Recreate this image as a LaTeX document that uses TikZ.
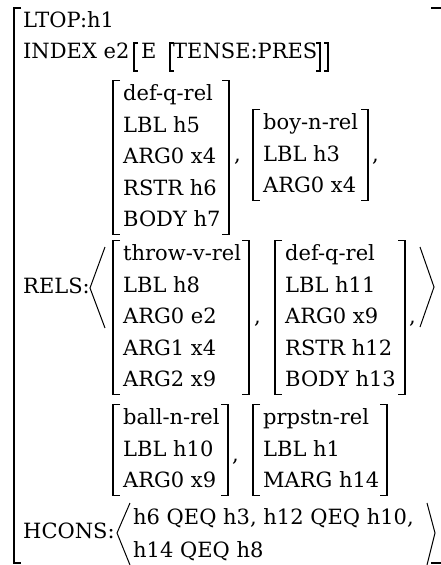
\documentclass[tikz,border=0pt]{standalone}
\usepackage{fontspec}
\setmainfont{DejaVu Serif}
\newcommand\avmfont{\fontsize{21}{31.5}\selectfont}
\tikzset{
  avmtext/.style={font=\avmfont, inner sep=0pt, anchor=base west},
  brk/.style={line width=1.1pt, line join=miter},
  angl/.style={line width=1pt, line join=miter},
}
% #1 name, #2 left x, #3 right x, #4 top y, #5 bottom y, #6 first baseline, #7 row step, #8 rows
\newcommand\avmmatrix[8]{%
  \draw[brk] (#2+7,#4) -- (#2,#4) -- (#2,#5) -- (#2+7,#5);
  \draw[brk] (#3-7,#4) -- (#3,#4) -- (#3,#5) -- (#3-7,#5);
  \foreach \t [count=\i] in {#8}
    \node[avmtext] (#1-\i) at (#2+10, #6+\i*#7-#7) {\t};
}
\begin{document}
\begin{tikzpicture}[x=1pt,y=-1pt]
\useasboundingbox (0,0) rectangle (441,565);
\clip (0,0) rectangle (441,565);
% outer brackets
\draw[brk] (21,8) -- (14,8) -- (14,563) -- (21,563);
\draw[brk] (431,8) -- (446,8) -- (446,563) -- (431,563);
% top rows
\node[avmtext] (ltop) at (23,27) {LTOP:h1};
\node[avmtext] (index) at (23,58) {INDEX e2};
\draw[brk] (138,43) -- (134,43) -- (134,71) -- (138,71);
\node[avmtext] (ev) at (141,58) {E};
\draw[brk] (174,43) -- (170,43) -- (170,71) -- (174,71);
\node[avmtext] (tense) at (173,58) {TENSE:PRES};
\draw[brk] (316,43) -- (320,43) -- (320,71) -- (316,71);
\draw[brk] (324,43) -- (328,43) -- (328,71) -- (324,71);
% RELS
\node[avmtext] (rels) at (23,293) {RELS:};
\draw[angl] (105,247) -- (90,288) -- (105,328);
\draw[angl] (420,247) -- (434,287) -- (420,327);
\avmmatrix{ma}{113}{229}{80.5}{234.5}{100.5}{31.5}{def-q-rel,LBL h5,ARG0 x4,RSTR h6,BODY h7}
\node[avmtext] (ca) at (234,161) {,};
\avmmatrix{mb}{253}{368}{109.5}{200.5}{129.5}{31.5}{boy-n-rel,LBL h3,ARG0 x4}
\node[avmtext] (cb) at (372,161) {,};
\avmmatrix{mc}{113}{249}{240.5}{394.5}{260.5}{31.5}{throw-v-rel,LBL h8,ARG0 e2,ARG1 x4,ARG2 x9}
\node[avmtext] (cc) at (254,323) {,};
\avmmatrix{md}{275}{405}{240.5}{394.5}{260.5}{31.5}{def-q-rel,LBL h11,ARG0 x9,RSTR h12,BODY h13}
\node[avmtext] (cd) at (409,323) {,};
\avmmatrix{me}{113}{228}{404.5}{495.5}{424.5}{31.5}{ball-n-rel,LBL h10,ARG0 x9}
\node[avmtext] (ce) at (232,461) {,};
\avmmatrix{mf}{253}{387}{404.5}{495.5}{424.5}{31.5}{prpstn-rel,LBL h1,MARG h14}
% HCONS
\node[avmtext] (hcons) at (23,538) {HCONS:};
\draw[angl] (130,503) -- (117,533) -- (130,565);
\draw[angl] (427,503) -- (435,533) -- (427,565);
\node[avmtext] (hc1) at (133,524) {h6 QEQ h3, h12 QEQ h10,};
\node[avmtext] (hc2) at (133,557) {h14 QEQ h8};
\end{tikzpicture}
\end{document}
